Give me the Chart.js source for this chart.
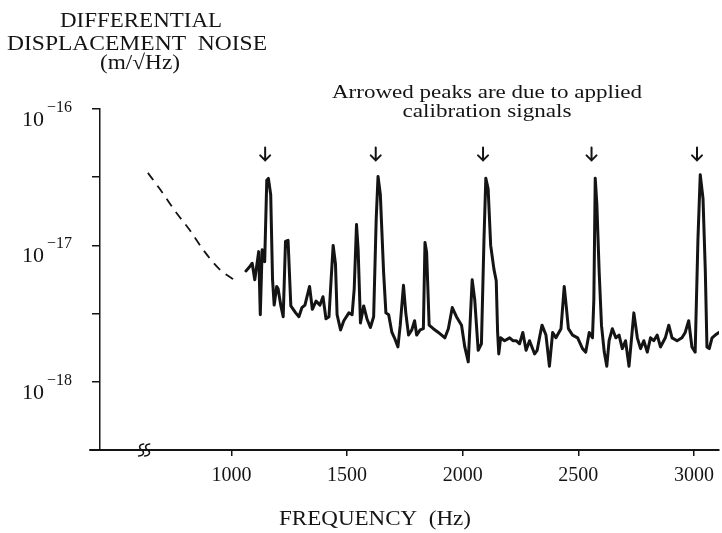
<!DOCTYPE html>
<html>
<head>
<meta charset="utf-8">
<script src="https://cdn.jsdelivr.net/npm/chart.js@4.4.1/dist/chart.umd.min.js"></script>
<style>
  html, body { margin: 0; padding: 0; background: #fff; }
  #wrap { width: 722px; height: 533px; }
</style>
</head>
<body>
<div id="wrap"><canvas id="noiseChart" width="722" height="533"></canvas></div>
<script>
// measured trace, frequency in Hz
const freqHz = [1063,1077,1090,1101,1112,1118,1125,1133,1144,1153,1160,1170,1178,1185,1196,1202,1214,1224,1234,1245,
  1257,1278,1292,1305,1318,1338,1350,1366,1383,1396,1409,1422,1430,1440,1450,1457,1472,1486,1508,1522,
  1531,1541,1548,1558,1572,1586,1601,1615,1626,1634,1644,1658,1668,1680,1694,1705,1720,1730,1744,1754,
  1766,1780,1792,1801,1816,1830,1837,1844,1855,1873,1895,1923,1938,1955,1973,1995,2009,2024,2041,2052,
  2067,2081,2092,2100,2110,2121,2135,2145,2151,2156,2164,2181,2203,2217,2231,2246,2260,2274,2289,2311,
  2322,2332,2343,2360,2375,2389,2403,2425,2439,2449,2457,2475,2497,2518,2532,2547,2561,2567,2573,2580,
  2590,2600,2612,2623,2633,2647,2662,2676,2690,2704,2719,2740,2755,2769,2783,2798,2812,2826,2841,2855,
  2876,2891,2905,2927,2948,2962,2977,2991,3005,3017,3027,3039,3049,3056,3066,3078,3092,3108];

// noise in units of 1e-18 m/√Hz
const noiseE18 = [6.5,6.9,7.4,5.6,7.6,9.0,3.1,9.3,7.6,30,31,23.5,5.6,3.65,5.0,4.8,3.6,3.0,10.7,10.9,
  3.6,3.2,3.0,3.5,3.65,5.0,3.4,3.9,3.65,4.2,2.9,3.0,5.2,10,7.3,3.1,2.4,2.8,3.2,3.1,
  4.8,14.2,9.3,2.7,3.6,2.9,2.5,3.0,15.5,32,23.5,6.4,3.2,3.1,2.3,2.1,1.8,2.6,5.1,3.2,
  2.2,2.4,2.8,2.2,2.4,2.45,10.5,8.9,2.6,2.45,2.3,2.1,2.45,3.5,3.0,2.6,1.8,1.4,5.6,4.0,
  1.7,1.9,11,31,26,10,6.7,5.5,2.3,1.6,2.1,2.0,2.1,2.0,2.0,1.9,2.3,1.7,2.0,1.6,
  1.7,2.1,2.6,2.2,1.3,2.3,2.1,2.45,5.0,3.4,2.45,2.2,2.1,1.75,1.65,2.3,2.1,4.0,31,20,
  6.4,2.6,1.65,1.3,2.0,2.45,2.1,2.2,1.75,2.0,1.3,3.2,2.1,1.75,2.0,1.65,2.1,2.0,2.2,1.8,
  2.1,2.6,2.1,2.0,2.1,2.3,2.8,1.8,1.65,11,33,22,6.4,1.8,1.75,2.1,2.2,2.3];

// dashed extrapolation below 1 kHz
const dashFreqHz = [639, 690, 755, 819, 884, 948, 1026];
const dashNoiseE18 = [34, 26, 18, 13, 9.0, 6.7, 5.4];

// calibration line arrows
const arrowFreqHz = [1146, 1624, 2088, 2557, 3013];
const arrowTipE18 = 42;

const xTicks = [1000, 1500, 2000, 2500, 3000];
const yTickValues = [3.16e-19, 1e-18, 3.16e-18, 1e-17, 3.16e-17, 1e-16];
const yDecadeExps = [-18, -17, -16];
const breakFreqHz = 612;

const E18 = 1e-18;
const ink = '#141414';
const serif = "'Liberation Serif', 'Times New Roman', serif";

// draw text centred at cx, stretched to a given width
function fitText(ctx, str, cx, base, size, width) {
  ctx.save();
  ctx.font = size + 'px ' + serif;
  const w = ctx.measureText(str).width;
  ctx.translate(cx, base);
  ctx.scale(width / w, 1);
  ctx.textAlign = 'center';
  ctx.textBaseline = 'alphabetic';
  ctx.fillText(str, 0, 0);
  ctx.restore();
}

const paperPlugin = {
  id: 'paper',
  afterDraw(chart) {
    const { ctx } = chart;
    const x = chart.scales.x, y = chart.scales.y;
    ctx.save();
    ctx.fillStyle = ink;
    ctx.strokeStyle = ink;

    // titles
    fitText(ctx, 'DIFFERENTIAL', 141, 27, 21, 162);
    fitText(ctx, 'DISPLACEMENT  NOISE', 137, 50, 21, 260);
    fitText(ctx, '(m/√Hz)', 140, 69, 21, 80);
    fitText(ctx, 'Arrowed peaks are due to applied', 487, 98, 18, 310);
    fitText(ctx, 'calibration signals', 487, 117, 18, 169);
    fitText(ctx, 'FREQUENCY  (Hz)', 375, 525, 21, 192);

    // decade labels 10^n
    ctx.textAlign = 'left';
    ctx.textBaseline = 'alphabetic';
    yDecadeExps.forEach(e => {
      const py = y.getPixelForValue(Math.pow(10, e));
      ctx.font = '22px ' + serif;
      ctx.fillText('10', 22, py + 17);
      ctx.font = '16px ' + serif;
      ctx.fillText('\u2212' + Math.abs(e), 47, py + 3);
    });

    // arrows over calibration peaks
    ctx.lineWidth = 2;
    ctx.lineCap = 'round';
    const tip = y.getPixelForValue(arrowTipE18 * E18);
    arrowFreqHz.forEach(f => {
      const px = x.getPixelForValue(f);
      ctx.beginPath();
      ctx.moveTo(px, tip - 13);
      ctx.lineTo(px, tip);
      ctx.moveTo(px - 5, tip - 5);
      ctx.lineTo(px, tip);
      ctx.lineTo(px + 5, tip - 5);
      ctx.stroke();
    });

    // x axis stub left of y axis
    const base = chart.chartArea.bottom;
    ctx.lineWidth = 2;
    ctx.beginPath();
    ctx.moveTo(chart.chartArea.left - 10, base);
    ctx.lineTo(chart.chartArea.left, base);
    ctx.stroke();

    // axis break mark
    const bx = x.getPixelForValue(breakFreqHz);
    ctx.lineWidth = 1.6;
    [0, 6].forEach(dx => {
      const cx = bx + dx;
      ctx.beginPath();
      ctx.moveTo(cx + 2, base - 6);
      ctx.bezierCurveTo(cx - 4, base - 5, cx - 2, base - 1, cx, base);
      ctx.bezierCurveTo(cx + 2, base + 1, cx + 4, base + 5, cx - 3, base + 6);
      ctx.stroke();
    });
    ctx.restore();
  }
};

const ctx = document.getElementById('noiseChart').getContext('2d');
new Chart(ctx, {
  type: 'line',
  data: {
    datasets: [
      {
        data: freqHz.map((f, i) => ({ x: f, y: noiseE18[i] * E18 })),
        borderColor: ink,
        borderWidth: 3,
        borderJoinStyle: 'round',
        borderCapStyle: 'round',
        pointRadius: 0,
        tension: 0,
        fill: false
      },
      {
        data: dashFreqHz.map((f, i) => ({ x: f, y: dashNoiseE18[i] * E18 })),
        borderColor: ink,
        borderWidth: 1.8,
        borderDash: [9, 7],
        pointRadius: 0,
        cubicInterpolationMode: 'monotone',
        fill: false
      }
    ]
  },
  options: {
    responsive: false,
    animation: false,
    layout: { padding: { top: 109, left: 0, right: 0, bottom: 0 } },
    plugins: { legend: { display: false }, tooltip: { enabled: false } },
    scales: {
      x: {
        type: 'linear',
        min: 432,
        max: 3108,
        afterBuildTicks: s => { s.ticks = xTicks.map(v => ({ value: v })); },
        afterFit: s => { s.height = 83; },
        border: { display: true, color: ink, width: 2 },
        grid: { drawOnChartArea: false, drawTicks: true, tickLength: 6, color: ink, lineWidth: 1.5 },
        ticks: {
          color: ink,
          font: { family: serif, size: 20 },
          padding: 8,
          maxRotation: 0,
          callback: v => String(v)
        }
      },
      y: {
        type: 'logarithmic',
        min: yTickValues[0],
        max: yTickValues[yTickValues.length - 1],
        afterBuildTicks: s => { s.ticks = yTickValues.map(v => ({ value: v })); },
        afterFit: s => { s.width = 100; },
        border: { display: true, color: ink, width: 1.5 },
        grid: { drawOnChartArea: false, drawTicks: true, tickLength: 8, color: ink, lineWidth: 1.5 },
        ticks: { display: false }
      }
    }
  },
  plugins: [paperPlugin]
});
</script>
</body>
</html>
